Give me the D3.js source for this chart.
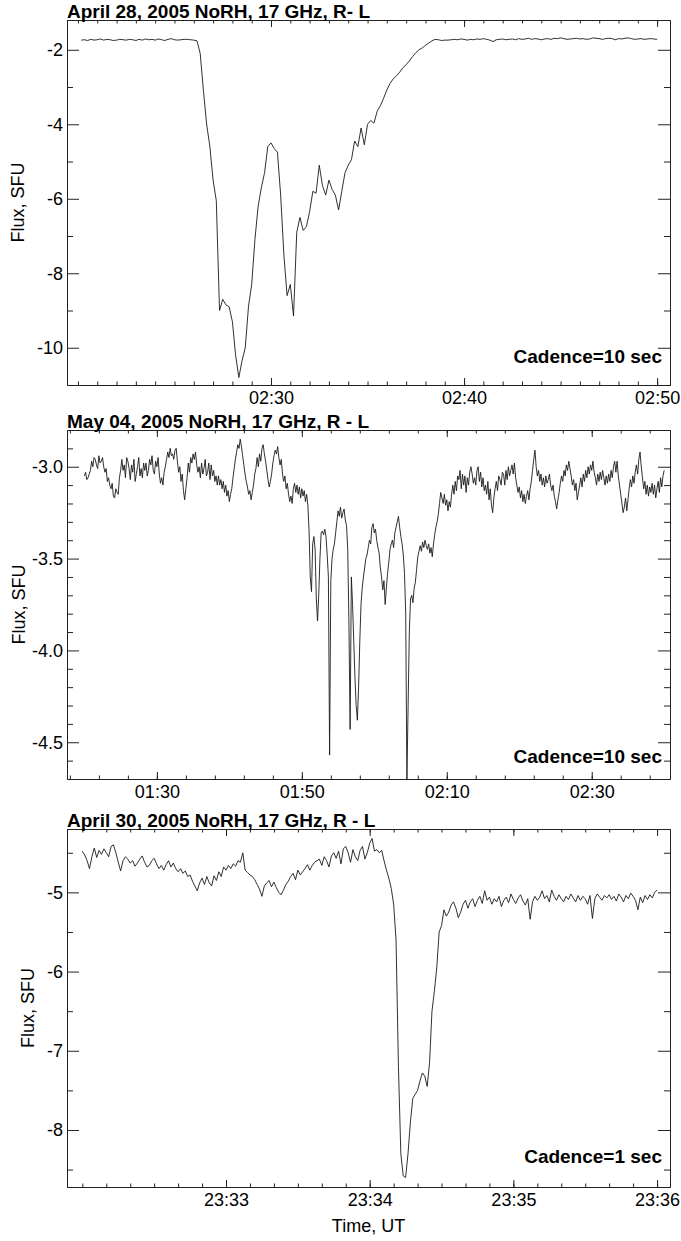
<!DOCTYPE html>
<html>
<head>
<meta charset="utf-8">
<script src="https://cdn.jsdelivr.net/npm/d3@7"></script>
<style>
  html, body { margin: 0; padding: 0; background: #fff; }
  svg { display: block; }
  text { font-family: "Liberation Sans", Arial, Helvetica, sans-serif; fill: #000; }
</style>
</head>
<body>
<svg id="chart" width="681" height="1241"></svg>
<script>
// ---- April 28, 2005: 10 s cadence from 02:20:10 UT ----
const startApr28 = "2005-04-28T02:20:10Z";
const stepApr28 = 10; // seconds
const fluxApr28 = [
  -1.74, -1.73, -1.75, -1.72, -1.74, -1.73, -1.71, -1.74, -1.72, -1.73, -1.75, -1.74,
  -1.72, -1.73, -1.74, -1.72, -1.73, -1.75, -1.72, -1.74, -1.71, -1.73, -1.72, -1.74,
  -1.71, -1.73, -1.75, -1.72, -1.70, -1.73, -1.74, -1.73, -1.72, -1.72, -1.73, -1.74,
  -1.76, -2.1, -3.1, -4.0, -4.6, -5.5, -6.05, -9.0, -8.7, -8.85, -8.9, -9.3,
  -10.2, -10.8, -10.35, -10.0, -8.9, -8.3, -7.1, -6.2, -5.7, -5.3, -4.6, -4.5,
  -4.65, -4.75, -5.9, -7.5, -8.6, -8.3, -9.15, -6.9, -6.5, -6.85, -6.75, -6.35,
  -5.8, -5.85, -5.1, -5.65, -5.9, -5.5, -5.75, -5.9, -6.3, -5.8, -5.3, -5.1,
  -4.95, -4.45, -4.6, -4.1, -4.55, -4.0, -3.9, -3.97, -3.65, -3.5, -3.3, -3.08,
  -2.9, -2.78, -2.7, -2.6, -2.48, -2.4, -2.3, -2.18, -2.08, -2.0, -1.95, -1.88,
  -1.82, -1.76, -1.72, -1.73, -1.75,
  -1.74, -1.74, -1.73, -1.72, -1.73, -1.71, -1.72, -1.74, -1.72, -1.73, -1.71, -1.72,
  -1.70, -1.72, -1.74, -1.78, -1.73, -1.72, -1.71, -1.73, -1.72, -1.71, -1.73, -1.70,
  -1.72, -1.71, -1.69, -1.72, -1.70, -1.71, -1.73, -1.71, -1.70, -1.72, -1.69, -1.70,
  -1.68, -1.70, -1.72, -1.71, -1.70, -1.69, -1.71, -1.70, -1.72, -1.71, -1.68, -1.69,
  -1.70, -1.72, -1.70, -1.69, -1.70, -1.73, -1.70, -1.71, -1.69, -1.68, -1.70, -1.72,
  -1.71, -1.70, -1.72, -1.71, -1.70, -1.71, -1.72
];

// ---- May 04, 2005: 10 s cadence from 01:20:00 UT ----
const startMay04 = "2005-05-04T01:20:00Z";
const stepMay04 = 10;
const fluxMay04 = [
  -3.05, -3.03, -3.07, -3.06, -3.04, -3.02, -2.97, -3.0, -2.95, -2.96, -2.99, -3.01,
  -2.94, -2.98, -2.97, -2.95, -3.0, -3.03, -3.01, -3.08, -3.06, -3.1, -3.12, -3.09,
  -3.16, -3.17, -3.12, -3.14, -3.15, -3.06, -3.02,
  -2.96, -3.02, -2.99, -3.06, -2.95, -2.97, -3.01, -3.07, -2.99, -3.03, -2.96, -3.08,
  -3.04, -3.0, -2.95, -3.05, -3.01, -3.06, -2.98, -3.02,
  -2.98, -3.05, -3.02, -2.96, -2.99, -2.94, -3.02, -3.04, -2.97, -3.0, -2.95, -3.04,
  -3.09, -3.06, -3.1, -3.03, -3.0, -2.96, -2.92, -2.95,
  -2.9, -2.94, -2.93, -2.96, -2.91, -2.9, -2.97, -3.03, -3.0, -3.08, -3.04, -3.13,
  -3.18, -3.12, -3.06, -2.98, -3.03, -2.95, -2.98, -2.93,
  -2.96, -2.92, -2.99, -3.03, -3.0, -3.06, -2.98, -3.04, -3.01, -2.96, -3.05, -3.03,
  -2.98, -3.07, -2.99, -3.05, -3.02, -3.08, -3.05, -3.1,
  -3.05, -3.1, -3.07, -3.12, -3.08, -3.14, -3.1, -3.16, -3.13, -3.19, -3.15, -3.12,
  -3.06, -3.01, -2.96, -2.92, -2.88, -2.9, -2.85, -2.89,
  -2.94, -2.99, -3.04, -3.08, -3.11, -3.15, -3.13, -3.18, -3.14, -3.1, -3.04, -3.01,
  -2.95, -3.0, -2.93, -2.97, -2.9, -2.88, -2.93, -2.97,
  -3.02, -3.07, -3.11, -3.08, -3.04, -2.98, -2.94, -2.91, -2.93, -2.89, -2.95, -2.99,
  -2.96, -3.04, -3.08, -3.05, -3.12, -3.09, -3.15, -3.19,
  -3.16, -3.2, -3.12, -3.09, -3.14, -3.1, -3.15, -3.11, -3.17, -3.12, -3.16, -3.13,
  -3.19, -3.15, -3.21,
  -3.35, -3.6, -3.68, -3.42, -3.38, -3.45, -3.72, -3.84, -3.7, -3.5, -3.36, -3.35,
  -3.37, -3.34, -3.38, -3.48, -3.6, -4.57, -3.62, -3.5, -3.45, -3.42, -3.36, -3.3,
  -3.24, -3.27, -3.22, -3.28, -3.25, -3.23, -3.29, -3.32, -3.45, -3.85, -4.43, -3.6,
  -3.75, -3.95, -4.15, -4.3, -4.38, -4.2, -3.95, -3.75, -3.66, -3.6, -3.55, -3.5,
  -3.48, -3.44, -3.4, -3.42, -3.33, -3.31, -3.36, -3.34, -3.4, -3.44, -3.47, -3.55,
  -3.6, -3.67, -3.62, -3.75, -3.66, -3.58, -3.52, -3.45, -3.42, -3.4, -3.44, -3.36,
  -3.33, -3.3, -3.27, -3.33, -3.38, -3.42, -3.48, -3.58, -3.8, -4.7, -4.3, -3.9,
  -3.72, -3.7, -3.74, -3.66, -3.63, -3.56, -3.49, -3.46, -3.43, -3.46, -3.41, -3.44,
  -3.4, -3.43, -3.45, -3.42, -3.47, -3.44, -3.49, -3.42, -3.37, -3.33, -3.3, -3.26,
  -3.2, -3.14, -3.17, -3.2, -3.15, -3.21, -3.18, -3.24, -3.19, -3.22, -3.15, -3.1,
  -3.15, -3.08, -3.13, -3.05, -3.07, -3.02, -3.12, -3.04, -3.1, -3.05, -3.14, -3.06,
  -3.1, -3.03, -3.0,
  -3.04, -3.09, -3.06, -3.1, -3.02, -3.0, -3.08, -3.03, -3.11, -3.06, -3.13, -3.1,
  -3.15, -3.08, -3.18, -3.12, -3.21, -3.25, -3.17, -3.12,
  -3.08, -3.13, -3.05, -3.07, -3.1, -3.03, -3.04, -3.1, -3.02, -3.07, -3.0, -3.05,
  -3.02, -2.99, -3.04, -2.98, -3.06, -3.1, -3.14, -3.11,
  -3.17, -3.13, -3.19, -3.15, -3.2, -3.16, -3.13, -3.18, -3.12, -3.08, -3.02, -2.96,
  -2.91, -3.0, -3.05, -3.02, -3.08, -3.04, -3.1, -3.06,
  -3.11, -3.05, -3.09, -3.07, -3.04, -3.1, -3.13, -3.1, -3.16, -3.19, -3.23, -3.18,
  -3.14, -3.09, -3.05, -3.08, -3.02, -3.05, -2.99, -3.02,
  -2.97, -3.01, -3.05, -3.1, -3.07, -3.13, -3.09, -3.18, -3.14, -3.1, -3.06, -3.11,
  -3.04, -3.08, -3.02, -3.06, -3.0, -3.04, -2.99, -3.02,
  -2.97, -3.03, -3.06, -3.1, -3.04, -3.08, -3.03, -3.07, -3.02, -3.06, -3.1, -3.05,
  -3.09, -3.04, -3.08, -3.02, -3.06, -3.0, -2.97, -3.03,
  -2.97, -3.05, -3.1, -3.15, -3.2, -3.25, -3.22, -3.17, -3.24, -3.18, -3.12, -3.07,
  -3.11, -3.05, -3.09, -3.03, -2.99, -3.04, -2.96, -2.92,
  -3.0, -3.06, -3.12, -3.08, -3.15, -3.1, -3.16, -3.11, -3.14, -3.09, -3.15, -3.1,
  -3.17, -3.12, -3.08, -3.14, -3.06, -3.11, -3.05, -3.02
];

// ---- April 30, 2005: 1 s cadence from 23:32:00 UT ----
const startApr30 = "2005-04-30T23:32:00Z";
const stepApr30 = 1;
const fluxApr30 = [
  -4.48, -4.53, -4.6, -4.7, -4.55, -4.44, -4.56, -4.47, -4.52, -4.45, -4.5, -4.55,
  -4.42, -4.4, -4.5, -4.62, -4.73, -4.6, -4.55, -4.58, -4.63,
  -4.6, -4.67, -4.63, -4.58, -4.54, -4.62, -4.68, -4.66, -4.6, -4.57, -4.64, -4.7,
  -4.66, -4.72, -4.65, -4.6, -4.68, -4.63, -4.7, -4.74,
  -4.7, -4.76, -4.73, -4.8, -4.78, -4.86, -4.92, -4.98, -4.88, -4.82, -4.9, -4.8,
  -4.88, -4.92, -4.79, -4.85, -4.74, -4.8, -4.68, -4.72,
  -4.66, -4.7, -4.64, -4.67, -4.6, -4.62, -4.5, -4.72, -4.75, -4.78, -4.8, -4.84,
  -4.9, -4.96, -5.05, -4.92, -4.88, -4.85, -4.93, -4.87,
  -4.94, -5.0, -5.03, -4.97, -4.9, -4.86, -4.8, -4.76, -4.84, -4.72, -4.78, -4.74,
  -4.7, -4.65, -4.72, -4.66, -4.62, -4.6, -4.58, -4.66,
  -4.55, -4.6, -4.68, -4.54, -4.5, -4.57, -4.48, -4.64, -4.45, -4.42, -4.5, -4.62,
  -4.46, -4.55, -4.6, -4.47, -4.42, -4.58, -4.5, -4.38, -4.32, -4.48, -4.46, -4.5,
  -4.47, -4.6, -4.72, -4.82, -4.95, -5.15, -5.6, -7.2, -8.3, -8.58, -8.6, -8.3,
  -7.9, -7.6, -7.55, -7.5, -7.38, -7.28, -7.32, -7.45, -7.15, -6.5, -6.25, -5.95,
  -5.5, -5.42,
  -5.22, -5.3, -5.25, -5.16, -5.12, -5.2, -5.32, -5.25, -5.15, -5.1, -5.2, -5.12,
  -5.08, -5.18, -5.1, -5.05, -5.14, -4.98, -5.1, -5.06,
  -5.15, -5.08, -5.12, -5.05, -5.18, -5.1, -5.06, -5.13, -5.02, -5.09, -5.14, -5.07,
  -5.03, -5.11, -5.16, -5.08, -5.34, -5.12, -5.05, -5.1,
  -5.06, -4.98, -5.08, -5.04, -5.12, -4.97, -5.05, -5.1, -5.03, -5.08, -5.12, -5.05,
  -5.09, -5.02, -5.07, -5.12, -5.04, -5.1, -5.05, -5.08,
  -5.15, -5.04, -5.33, -5.08, -5.02, -5.06, -5.1, -5.04, -5.07, -5.03, -5.09, -5.05,
  -5.11, -5.02, -5.06, -5.12, -5.04, -5.08, -5.01, -5.05,
  -5.1, -5.22, -5.06, -5.13, -5.04, -5.09, -5.03, -5.07, -5.0, -4.97
];

// Titles, annotations and axis ticks
const titles = [
  "April 28, 2005 NoRH, 17 GHz, R- L",
  "May 04, 2005 NoRH, 17 GHz, R - L",
  "April 30, 2005 NoRH, 17 GHz, R - L"
];
const cadenceLabels = ["Cadence=10 sec", "Cadence=10 sec", "Cadence=1 sec"];

const yTicksApr28 = [-2, -4, -6, -8, -10];
const yLabelsApr28 = ["-2", "-4", "-6", "-8", "-10"];
const yMinorApr28 = [-3, -5, -7, -9];
const yTicksMay04 = [-3.0, -3.5, -4.0, -4.5];
const yLabelsMay04 = ["-3.0", "-3.5", "-4.0", "-4.5"];
const yMinorMay04 = [-2.9, -3.1, -3.2, -3.3, -3.4, -3.6, -3.7, -3.8, -3.9, -4.1, -4.2, -4.3, -4.4, -4.6];
const yTicksApr30 = [-5, -6, -7, -8];
const yLabelsApr30 = ["-5", "-6", "-7", "-8"];
const yMinorApr30 = [-4.5, -5.5, -6.5, -7.5, -8.5];

const xLabelsApr28 = ["02:30", "02:40", "02:50"];
const xLabelsMay04 = ["01:30", "01:50", "02:10", "02:30"];
const xLabelsApr30 = ["23:33", "23:34", "23:35", "23:36"];

const xDomainApr28 = ["2005-04-28T02:19:26Z", "2005-04-28T02:50:40Z"];
const xDomainMay04 = ["2005-05-04T01:17:36Z", "2005-05-04T02:40:48Z"];
const xDomainApr30 = ["2005-04-30T23:31:53.6Z", "2005-04-30T23:36:05.4Z"];
const yDomainApr28 = [-11, -1.2];
const yDomainMay04 = [-4.7, -2.8];
const yDomainApr30 = [-8.72, -4.2];

// ---- layout ----
const plotLeft = 67, plotRight = 670;
const panelBoxes = [
  { top: 20, bottom: 385, yTitleX: 24, noteLift: 22 },
  { top: 430, bottom: 779, yTitleX: 25, noteLift: 16 },
  { top: 829, bottom: 1187, yTitleX: 34, noteLift: 24 }
];

const svg = d3.select("#chart");
const day = (iso) => iso.slice(0, 11);

function toTimes(start, step, n) {
  const t0 = new Date(start).getTime();
  return d3.range(n).map(i => new Date(t0 + i * step * 1000));
}

function stepTicks(domain, stepSec, alignIso) {
  const t0 = new Date(domain[0]).getTime(), t1 = new Date(domain[1]).getTime();
  const a = new Date(alignIso).getTime(), s = stepSec * 1000;
  const first = a + Math.ceil((t0 - a) / s) * s;
  const out = [];
  for (let t = first; t <= t1; t += s) out.push(new Date(t));
  return out;
}

const panels = [
  { start: startApr28, step: stepApr28, flux: fluxApr28, xDomain: xDomainApr28, yDomain: yDomainApr28,
    yTicks: yTicksApr28, yLabels: yLabelsApr28, yMinor: yMinorApr28, xLabels: xLabelsApr28,
    minorStep: 60, majorAlign: "02:30:00" },
  { start: startMay04, step: stepMay04, flux: fluxMay04, xDomain: xDomainMay04, yDomain: yDomainMay04,
    yTicks: yTicksMay04, yLabels: yLabelsMay04, yMinor: yMinorMay04, xLabels: xLabelsMay04,
    minorStep: 240, majorAlign: "01:30:00" },
  { start: startApr30, step: stepApr30, flux: fluxApr30, xDomain: xDomainApr30, yDomain: yDomainApr30,
    yTicks: yTicksApr30, yLabels: yLabelsApr30, yMinor: yMinorApr30, xLabels: xLabelsApr30,
    minorStep: 10, majorAlign: "23:33:00" }
];

const fontRegular = "18px";
const fontBold = "19px";
const axisColor = "#222";

panels.forEach((p, k) => {
  const box = panelBoxes[k];
  const x = d3.scaleUtc().domain(p.xDomain.map(d => new Date(d))).range([plotLeft, plotRight]);
  const y = d3.scaleLinear().domain(p.yDomain).range([box.bottom, box.top]);
  const times = toTimes(p.start, p.step, p.flux.length);
  const d0 = day(p.start);
  const majorX = p.xLabels.map(s => new Date(d0 + s + ":00Z"));
  const minorX = stepTicks(p.xDomain, p.minorStep, d0 + p.majorAlign + "Z");

  const hMajor = 7, hMinor = 3.5, vMajor = 12, vMinor = 6;
  const g = svg.append("g");

  // bottom axis with labels
  g.append("g").attr("transform", `translate(0,${box.bottom})`)
    .call(d3.axisBottom(x).tickValues(majorX).tickSizeInner(-hMajor).tickSizeOuter(0)
      .tickPadding(6).tickFormat((d, i) => p.xLabels[i]));
  g.append("g").attr("transform", `translate(0,${box.bottom})`)
    .call(d3.axisBottom(x).tickValues(minorX).tickSizeInner(-hMinor).tickSizeOuter(0).tickFormat(""));
  // top axis
  g.append("g").attr("transform", `translate(0,${box.top})`)
    .call(d3.axisTop(x).tickValues(majorX).tickSizeInner(-hMajor).tickSizeOuter(0).tickFormat(""));
  g.append("g").attr("transform", `translate(0,${box.top})`)
    .call(d3.axisTop(x).tickValues(minorX).tickSizeInner(-hMinor).tickSizeOuter(0).tickFormat(""));
  // left axis with labels
  g.append("g").attr("transform", `translate(${plotLeft},0)`)
    .call(d3.axisLeft(y).tickValues(p.yTicks).tickSizeInner(-vMajor).tickSizeOuter(0)
      .tickPadding(4).tickFormat((d, i) => p.yLabels[i]));
  g.append("g").attr("transform", `translate(${plotLeft},0)`)
    .call(d3.axisLeft(y).tickValues(p.yMinor).tickSizeInner(-vMinor).tickSizeOuter(0).tickFormat(""));
  // right axis
  g.append("g").attr("transform", `translate(${plotRight},0)`)
    .call(d3.axisRight(y).tickValues(p.yTicks).tickSizeInner(-vMajor).tickSizeOuter(0).tickFormat(""));
  g.append("g").attr("transform", `translate(${plotRight},0)`)
    .call(d3.axisRight(y).tickValues(p.yMinor).tickSizeInner(-vMinor).tickSizeOuter(0).tickFormat(""));

  g.selectAll(".domain").attr("stroke", axisColor).attr("stroke-width", 1);
  g.selectAll(".tick line").attr("stroke", axisColor).attr("stroke-width", 1);
  g.selectAll(".tick text").style("font-size", fontRegular)
    .style("font-family", '"Liberation Sans", Arial, Helvetica, sans-serif').attr("fill", "#000");

  // flux curve
  const line = d3.line().x((d, i) => x(times[i])).y(d => y(d));
  g.append("path").datum(p.flux)
    .attr("fill", "none").attr("stroke", "#1a1a1a").attr("stroke-width", 0.9)
    .attr("stroke-linejoin", "round").attr("d", line);

  // panel title
  g.append("text").attr("x", plotLeft).attr("y", box.top - 2)
    .style("font-size", fontBold).style("font-weight", "bold").text(titles[k]);

  // cadence note
  g.append("text").attr("x", plotRight - 8).attr("y", box.bottom - box.noteLift)
    .attr("text-anchor", "end").style("font-size", fontBold).style("font-weight", "bold")
    .text(cadenceLabels[k]);

  // y-axis title
  g.append("text")
    .attr("transform", `translate(${box.yTitleX},${(box.top + box.bottom) / 2}) rotate(-90)`)
    .attr("text-anchor", "middle").style("font-size", fontRegular).text("Flux, SFU");
});

svg.append("text").attr("x", (plotLeft + plotRight) / 2).attr("y", 1232)
  .attr("text-anchor", "middle").style("font-size", fontRegular).text("Time, UT");
</script>
